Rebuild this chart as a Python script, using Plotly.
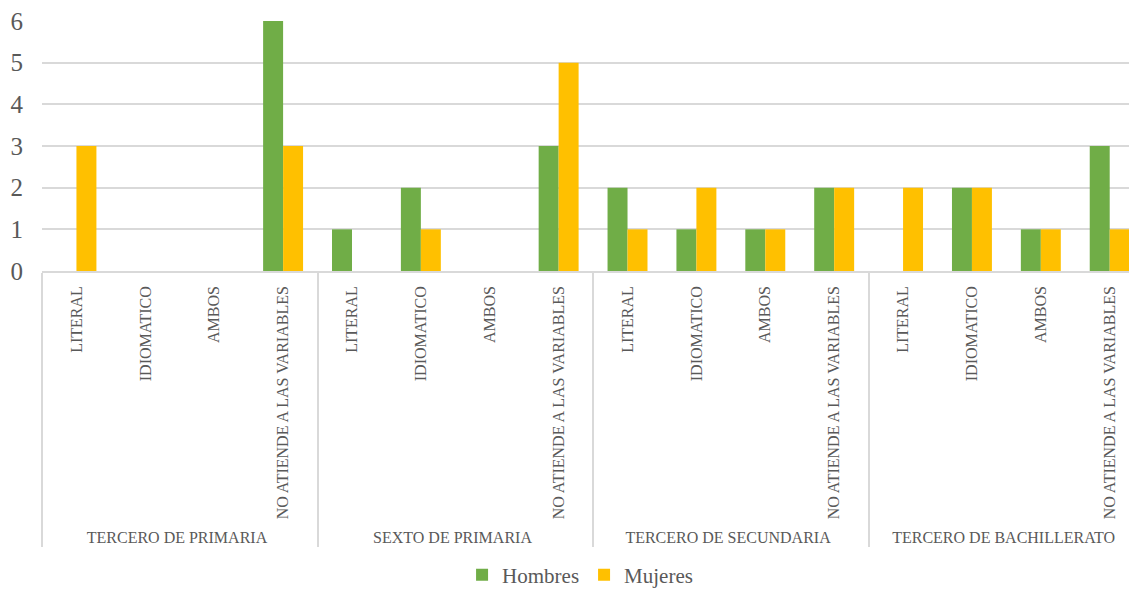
import plotly.graph_objects as go

groups = ["TERCERO DE PRIMARIA", "SEXTO DE PRIMARIA", "TERCERO DE SECUNDARIA", "TERCERO DE BACHILLERATO"]
categories = ["LITERAL", "IDIOMATICO", "AMBOS", "NO ATIENDE A LAS VARIABLES"]
hombres = [0, 0, 0, 6,  1, 2, 0, 3,  2, 1, 1, 2,  0, 2, 1, 3]
mujeres = [3, 0, 0, 3,  0, 1, 0, 5,  1, 2, 1, 2,  2, 2, 1, 1]
y_ticks = [0, 1, 2, 3, 4, 5, 6]

xg = [g for g in groups for _ in categories]
xc = [c for _ in groups for c in categories]

FONT = "Liberation Serif, Times New Roman, serif"
GRAY = "#595959"

fig = go.Figure()
fig.add_trace(go.Bar(x=[xg, xc], y=hombres, name="Hombres", marker_color="#70AD47", marker_line_width=0))
fig.add_trace(go.Bar(x=[xg, xc], y=mujeres, name="Mujeres", marker_color="#FFC000", marker_line_width=0))

fig.update_layout(
    width=1129, height=596,
    margin=dict(l=42, r=0, t=21, b=325),
    paper_bgcolor="white", plot_bgcolor="white",
    barmode="group", bargap=0.42, bargroupgap=0,
    font=dict(family=FONT, color=GRAY),
    legend=dict(orientation="h", xanchor="center", x=0.495, yanchor="bottom", y=-1.298,
                font=dict(size=21, family=FONT, color=GRAY), itemwidth=30),
    xaxis=dict(type="multicategory", range=[-0.5, 15.28], tickangle=-90, automargin=False,
               tickfont=dict(size=16, family=FONT, color=GRAY), ticklabelstandoff=7,
               showline=True, linecolor="#D9D9D9", linewidth=1.5,
               showdividers=True, dividercolor="#D9D9D9", dividerwidth=1.5,
               ticks="", showgrid=False),
    yaxis=dict(range=[0, 6], tickvals=y_ticks, showgrid=True, gridcolor="#D9D9D9", gridwidth=1.5,
               automargin=False,
               tickfont=dict(size=25, family=FONT, color=GRAY), ticklabelstandoff=18,
               zeroline=False, showline=False, ticks=""),
)

fig.write_html("out.html")
